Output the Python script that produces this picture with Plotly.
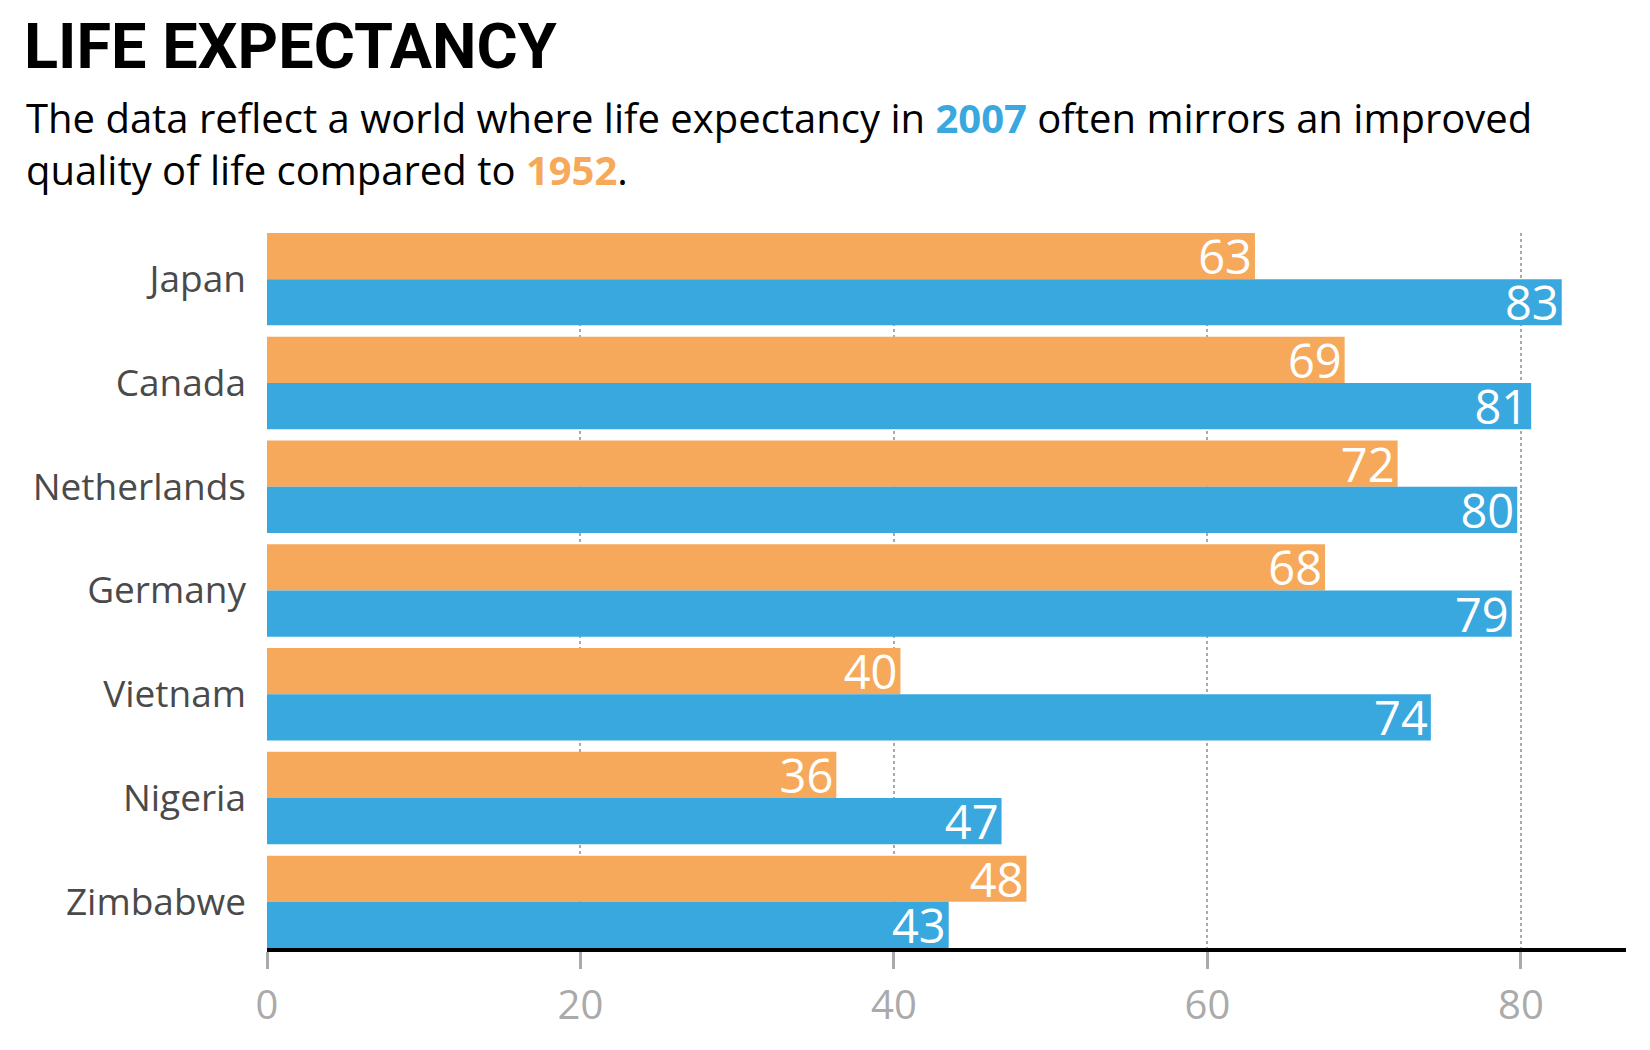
import plotly.graph_objects as go

countries = ["Japan", "Canada", "Netherlands", "Germany", "Vietnam", "Nigeria", "Zimbabwe"]
life_1952 = [63.03, 68.75, 72.13, 67.5, 40.41, 36.32, 48.45]
life_2007 = [82.60, 80.65, 79.76, 79.41, 74.25, 46.86, 43.49]
x_ticks = [0, 20, 40, 60, 80]

ORANGE = "#F6A95B"
BLUE = "#38A8DF"

W, H = 1650, 1050
ML, MR, MT, MB = 259, 32, 225, 110
pw = W - ML - MR
ph = H - MT - MB

fig = go.Figure()
for vals, col, name in [(life_1952, ORANGE, "1952"), (life_2007, BLUE, "2007")]:
    fig.add_trace(go.Bar(
        y=countries, x=vals, orientation="h", name=name,
        marker=dict(color=col, line=dict(width=0)),
        text=[f"{round(v + 1e-9):d}" for v in vals],
        textposition="inside", insidetextanchor="end", textangle=0,
        constraintext="none",
        textfont=dict(family="Open Sans", size=47, color="white"),
        hoverinfo="skip",
    ))

fig.update_layout(
    width=W, height=H,
    margin=dict(l=ML, r=MR, t=MT, b=MB),
    paper_bgcolor="white", plot_bgcolor="white",
    barmode="group", bargap=0.11, bargroupgap=0,
    showlegend=False,
    title=dict(
        text="<b>LIFE EXPECTANCY</b>",
        font=dict(family="Roboto", size=63, color="black"),
        x=16 / W, xanchor="left", xref="container",
        y=1 - 38 / H, yanchor="middle", yref="container",
    ),
    xaxis=dict(
        range=[0, 86.7], tickvals=x_ticks, ticktext=[str(t) for t in x_ticks],
        showgrid=True, gridcolor="#AAAAAA", griddash="dot", gridwidth=2,
        showline=True, linecolor="black", linewidth=4,
        ticks="outside", ticklen=17, tickwidth=3, tickcolor="#AAAAAA",
        tickfont=dict(family="Open Sans", size=40, color="#AAAAAA"),
        ticklabelstandoff=2,
        zeroline=False, fixedrange=True,
    ),
    yaxis=dict(
        range=[6.445, -0.445], showgrid=False, showline=False, zeroline=False,
        ticks="", tickfont=dict(family="Open Sans", size=37, color="#4A4A4A"),
        ticklabelstandoff=20, fixedrange=True,
    ),
    annotations=[dict(
        text=("The data reflect a world where life expectancy in "
              f"<span style='color:{BLUE}'><b>2007</b></span> often mirrors an improved<br>"
              f"quality of life compared to <span style='color:{ORANGE}'><b>1952</b></span>."),
        xref="paper", yref="paper",
        x=(16 - ML) / pw, y=(H - MB - 80) / ph,
        xanchor="left", yanchor="top", align="left", showarrow=False,
        font=dict(family="Open Sans", size=40, color="black"),
    )],
)

fig.write_html("out.html")
